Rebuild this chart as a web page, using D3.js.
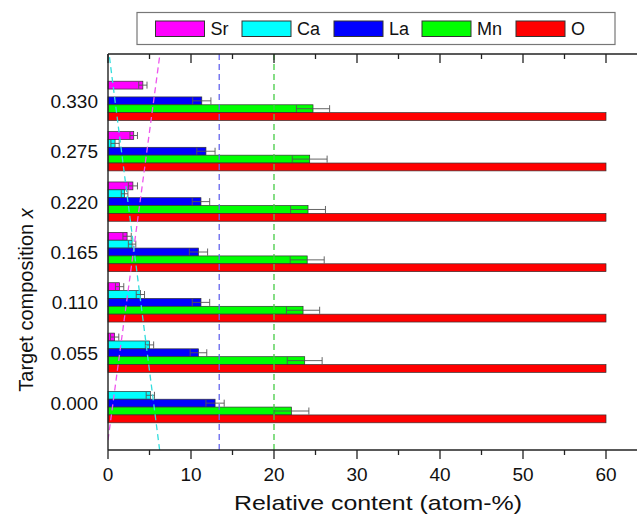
<!DOCTYPE html>
<html><head><meta charset="utf-8">
<script src="https://cdn.jsdelivr.net/npm/d3@7"></script>
<style>
body{margin:0;background:#fff;}
svg{display:block;font-family:"Liberation Sans",Arial,sans-serif;}
</style></head>
<body>
<svg id="chart" width="637" height="519"></svg>
<script>
// ---- data ----
const categories = ["0.330","0.275","0.220","0.165","0.110","0.055","0.000"];
const series = ["Sr","Ca","La","Mn","O"];
const colors = ["#ff00ff","#00ffff","#0000ff","#00ff00","#ff0000"];
const Sr    = [4.2, 3.1, 3.0, 2.3, 1.4, 0.8, 0];
const SrErr = [0.5, 0.45,0.55,0.5, 0.5, 0.5, 0];
const Ca    = [0,   0.85,2.0, 2.9, 3.9, 5.0, 5.1];
const CaErr = [0,   0.5, 0.4, 0.45,0.5, 0.5, 0.5];
const La    = [11.3,11.8,11.2,10.9,11.2,10.9,12.9];
const LaErr = [1.1, 1.1, 1.05,1.1, 1.05,1.0, 1.1];
const Mn    = [24.7,24.3,24.1,24.0,23.5,23.7,22.1];
const MnErr = [2.0, 2.1, 2.1, 2.05,2.0, 2.1, 2.1];
const O     = [60,60,60,60,60,60,60];
const OErr  = [0,0,0,0,0,0,0];
const xTicks = [0,10,20,30,40,50,60];
// nominal guide lines (value at composition 0.000 and 0.330)
const guideComp = [0.000, 0.330];
const srGuide = [0.6, 5.5];
const caGuide = [5.5, 0.85];
const laGuide = [13.4, 13.4];
const mnGuide = [20, 20];
const guideColors = ["#ee55ee","#33dddd","#6666ee","#44cc44"];

const values = [Sr,Ca,La,Mn,O];
const errs = [SrErr,CaErr,LaErr,MnErr,OErr];

// ---- layout ----
const L = 108, T = 54, B = 450, R = 648;
const svg = d3.select("#chart");

const x = d3.scaleLinear().domain([0,65]).range([L, L + 65*8.3]);
const y0 = d3.scaleBand().domain(categories).range([T,B]).paddingInner(0.22).paddingOuter(0.54);
const y1 = d3.scaleBand().domain(series).range([0, y0.bandwidth()]);
const yc = d3.scaleLinear().domain([0.330, 0.000])
  .range([y0("0.330")+y0.bandwidth()/2, y0("0.000")+y0.bandwidth()/2]);

svg.append("defs").append("clipPath").attr("id","plotclip")
  .append("rect").attr("x",L).attr("y",T).attr("width",R-L).attr("height",B-T);

// bars
const g = svg.append("g");
categories.forEach((c,i)=>{
  series.forEach((s,j)=>{
    const v = values[j][i];
    if (v <= 0) return;
    const yy = y0(c) + y1(s);
    const h = y1.bandwidth();
    g.append("rect").attr("x",x(0)).attr("y",yy).attr("width",x(v)-x(0)).attr("height",h)
      .attr("fill",colors[j]).attr("stroke","#333").attr("stroke-width",0.7);
    const e = errs[j][i];
    if (e > 0) {
      const cy = yy + h/2;
      g.append("line").attr("x1",x(v-e)).attr("x2",x(v+e)).attr("y1",cy).attr("y2",cy)
        .attr("stroke","#555").attr("stroke-width",0.9);
      [v-e, v+e].forEach(t=>{
        g.append("line").attr("x1",x(t)).attr("x2",x(t)).attr("y1",cy-3.5).attr("y2",cy+3.5)
          .attr("stroke","#555").attr("stroke-width",0.9);
      });
    }
  });
});

// guide lines
const cTop = yc.invert(T), cBot = yc.invert(B);
const gl = svg.append("g").attr("clip-path","url(#plotclip)");
[srGuide,caGuide,laGuide,mnGuide].forEach((gv,k)=>{
  const f = d3.scaleLinear().domain(guideComp).range(gv);
  gl.append("line").attr("x1",x(f(cBot))).attr("y1",yc(cBot)).attr("x2",x(f(cTop))).attr("y2",yc(cTop))
    .attr("stroke",guideColors[k]).attr("stroke-width",1.3).attr("stroke-dasharray","6,4");
});

// axes
const minor = d3.range(0,66,5);
const ax = svg.append("g");
ax.selectAll(".bt").data(minor).enter().append("line")
  .attr("x1",d=>x(d)).attr("x2",d=>x(d)).attr("y1",B).attr("y2",d=>B+(d%10===0?9:5))
  .attr("stroke","#222").attr("stroke-width",1.3);
ax.selectAll(".tt").data(minor).enter().append("line")
  .attr("x1",d=>x(d)).attr("x2",d=>x(d)).attr("y1",T).attr("y2",d=>T+(d%10===0?9:5))
  .attr("stroke","#222").attr("stroke-width",1.3);
ax.append("line").attr("x1",L).attr("x2",637).attr("y1",B).attr("y2",B).attr("stroke","#222").attr("stroke-width",1.4);
ax.append("line").attr("x1",L).attr("x2",637).attr("y1",T).attr("y2",T).attr("stroke","#222").attr("stroke-width",1.4);
ax.append("line").attr("x1",L).attr("x2",L).attr("y1",T).attr("y2",B).attr("stroke","#222").attr("stroke-width",1.4);

ax.selectAll(".xl").data(xTicks).enter().append("text")
  .attr("x",d=>x(d)).attr("y",481).attr("text-anchor","middle")
  .attr("font-size",19).attr("fill","#111").text(d=>d);
ax.selectAll(".yl").data(categories).enter().append("text")
  .attr("x",98).attr("y",d=>y0(d)+y0.bandwidth()/2+7).attr("text-anchor","end")
  .attr("font-size",19).attr("fill","#111").text(d=>d);

svg.append("text").attr("x",378).attr("y",510).attr("text-anchor","middle")
  .attr("font-size",21).attr("textLength",288).attr("lengthAdjust","spacingAndGlyphs")
  .attr("fill","#111").text("Relative content (atom-%)");
const yt = svg.append("text").attr("transform","translate(33,300) rotate(-90)")
  .attr("text-anchor","middle").attr("font-size",20).attr("fill","#111");
yt.append("tspan").text("Target composition ");
yt.append("tspan").attr("font-style","italic").text("x");

// legend
const lg = svg.append("g");
lg.append("rect").attr("x",137).attr("y",12.5).attr("width",478).attr("height",32)
  .attr("fill","#fff").attr("stroke","#777").attr("stroke-width",1.2);
const legX = [155.5, 242, 334, 422, 516];
series.forEach((s,j)=>{
  lg.append("rect").attr("x",legX[j]).attr("y",21).attr("width",49).attr("height",15.5)
    .attr("fill",colors[j]).attr("stroke","#333").attr("stroke-width",1);
  lg.append("text").attr("x",legX[j]+55).attr("y",35).attr("font-size",18).attr("fill","#111").text(s);
});
</script>
</body></html>
